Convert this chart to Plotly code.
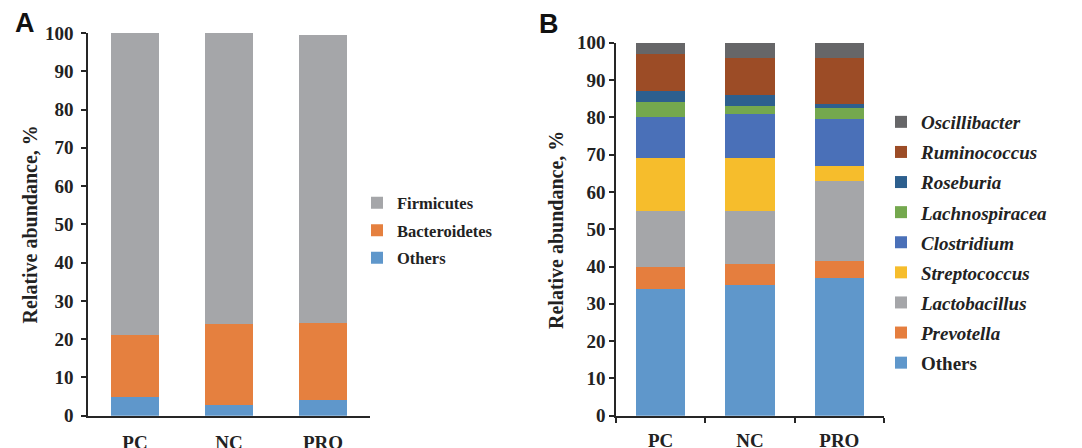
import plotly.graph_objects as go

groups = ["PC", "NC", "PRO"]

# Panel A: phylum level (%)
phyla = ["Others", "Bacteroidetes", "Firmicutes"]
phyla_values = {
    "Others": [5.0, 2.8, 4.2],
    "Bacteroidetes": [16.0, 21.1, 20.0],
    "Firmicutes": [79.0, 76.1, 75.4],
}
phyla_colors = {"Others": "#5F97CB", "Bacteroidetes": "#E5803F", "Firmicutes": "#A5A6A9"}

# Panel B: genus level (%)
genera = ["Others", "Prevotella", "Lactobacillus", "Streptococcus", "Clostridium",
          "Lachnospiracea", "Roseburia", "Ruminococcus", "Oscillibacter"]
genera_values = {
    "Others": [34.0, 35.0, 37.0],
    "Prevotella": [6.0, 5.7, 4.5],
    "Lactobacillus": [15.0, 14.3, 21.5],
    "Streptococcus": [14.0, 14.0, 4.0],
    "Clostridium": [11.0, 12.0, 12.5],
    "Lachnospiracea": [4.0, 2.0, 3.1],
    "Roseburia": [3.0, 3.0, 0.9],
    "Ruminococcus": [10.0, 10.0, 12.5],
    "Oscillibacter": [3.0, 4.0, 4.0],
}
genera_colors = {
    "Others": "#5F97CB", "Prevotella": "#E57E3E", "Lactobacillus": "#A5A6A9",
    "Streptococcus": "#F6BD2C", "Clostridium": "#4A70B8", "Lachnospiracea": "#74A84E",
    "Roseburia": "#2D5F8E", "Ruminococcus": "#9C4C26", "Oscillibacter": "#666668",
}

W, H = 1082, 448
SERIF = "Liberation Serif"
AXC = "#262626"

fig = go.Figure()
for i, name in enumerate(phyla):
    fig.add_trace(go.Bar(
        x=groups, y=phyla_values[name], name=name, width=0.52,
        marker=dict(color=phyla_colors[name], line=dict(width=0)),
        xaxis="x", yaxis="y", legend="legend", legendgroup="a_" + name,
        legendrank=1000 - i,
    ))
for i, name in enumerate(genera):
    label = name if name == "Others" else "<i>" + name + "</i>"
    fig.add_trace(go.Bar(
        x=groups, y=genera_values[name], name=label, width=0.55,
        marker=dict(color=genera_colors[name], line=dict(width=0)),
        xaxis="x2", yaxis="y2", legend="legend2", legendgroup="b_" + name,
        legendrank=1000 - i,
    ))

def px_x(p):
    return p / W

def px_y(p):
    return (H - p) / H

tickfont = dict(family=SERIF, size=19, color="#222222", weight="bold")

common = dict(automargin=False, showgrid=False, zeroline=False, showline=True,
              linecolor=AXC, linewidth=1.6, tickfont=tickfont)

fig.update_layout(
    width=W, height=H, barmode="stack",
    margin=dict(l=0, r=0, t=0, b=0, autoexpand=False),
    paper_bgcolor="white", plot_bgcolor="white",
    font=dict(family=SERIF, color="#222222"),
    xaxis=dict(domain=[px_x(88), px_x(370)], anchor="y", ticks="",
               ticklabelstandoff=9, **common),
    yaxis=dict(domain=[px_y(415.7), px_y(33)], anchor="x", range=[0, 100], dtick=10,
               ticks="outside", ticklen=5, tickwidth=1.6, tickcolor=AXC,
               ticklabelstandoff=4, **common),
    xaxis2=dict(domain=[px_x(616), px_x(884)], anchor="y2", ticks="outside",
                tickson="boundaries", ticklen=5, tickwidth=1.6, tickcolor=AXC,
                ticklabelstandoff=7, **common),
    yaxis2=dict(domain=[px_y(415.7), px_y(42.7)], anchor="x2", range=[0, 100], dtick=10,
                ticks="outside", ticklen=5, tickwidth=1.6, tickcolor=AXC,
                ticklabelstandoff=0, **common),
    legend=dict(x=px_x(357), y=px_y(230.5), xanchor="left", yanchor="middle",
                traceorder="grouped", tracegroupgap=3, bgcolor="rgba(0,0,0,0)",
                font=dict(family=SERIF, size=16.5, color="#222222", weight="bold")),
    legend2=dict(x=px_x(881), y=px_y(242.5), xanchor="left", yanchor="middle",
                 traceorder="grouped", tracegroupgap=2.4, bgcolor="rgba(0,0,0,0)",
                 font=dict(family=SERIF, size=19, color="#222222", weight="bold")),
    showlegend=True,
    annotations=[
        dict(text="A", x=px_x(25), y=px_y(23), xref="paper", yref="paper", showarrow=False,
             xanchor="center", yanchor="middle",
             font=dict(family="Liberation Sans", size=27, color="#111111", weight="bold")),
        dict(text="B", x=px_x(549), y=px_y(24), xref="paper", yref="paper", showarrow=False,
             xanchor="center", yanchor="middle",
             font=dict(family="Liberation Sans", size=27, color="#111111", weight="bold")),
        dict(text="Relative abundance, %", x=px_x(29.5), y=px_y(225), xref="paper", yref="paper",
             showarrow=False, textangle=-90, xanchor="center", yanchor="middle",
             font=dict(family=SERIF, size=20, color="#222222", weight="bold")),
        dict(text="Relative abundance, %", x=px_x(556), y=px_y(230), xref="paper", yref="paper",
             showarrow=False, textangle=-90, xanchor="center", yanchor="middle",
             font=dict(family=SERIF, size=20, color="#222222", weight="bold")),
    ],
)

fig.write_html("out.html", config={"displayModeBar": False},
               post_script="document.body.style.margin='0';")
